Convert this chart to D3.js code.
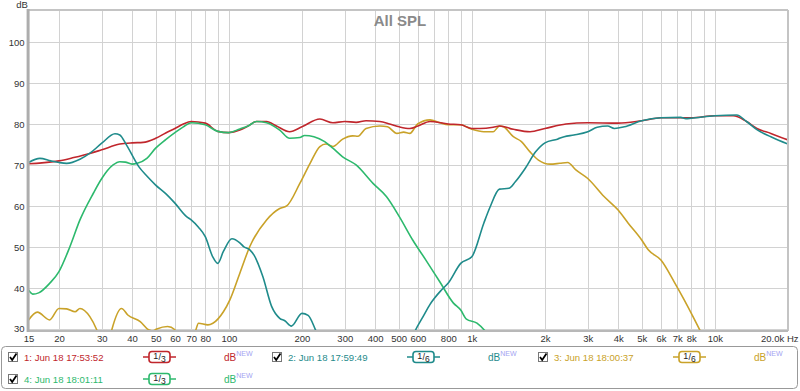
<!DOCTYPE html>
<html><head><meta charset="utf-8">
<script src="https://cdn.jsdelivr.net/npm/d3@7"></script>
<style>
html,body{margin:0;padding:0;background:#fff;}
svg{display:block;font-family:"Liberation Sans",Arial,sans-serif;}
</style></head>
<body>
<svg id="c" width="800" height="391"></svg>
<script>
// ---- data ----
const xTickValues = [15,20,30,40,50,60,70,80,100,200,300,400,500,600,800,1000,2000,3000,4000,5000,6000,7000,8000,10000,20000];
const xTickLabels = ["15","20","30","40","50","60","70","80","100","200","300","400","500","600","800","1k","2k","3k","4k","5k","6k","7k","8k","10k","20.0k Hz"];
const xGrid = [20,30,40,50,60,70,80,90,100,200,300,400,500,600,700,800,900,1000,2000,3000,4000,5000,6000,7000,8000,9000,10000];
const yTickValues = [30,40,50,60,70,80,90,100];

const seriesNames = ["1: Jun 18 17:53:52","2: Jun 18 17:59:49","3: Jun 18 18:00:37","4: Jun 18 18:01:11"];
const seriesSmoothing = [["1","3"],["1","6"],["1","6"],["1","3"]];
const seriesColors = ["#c0262c","#1f8b8b","#c9a229","#2db96d"];

const s1Freq = [15,17,20,23,26.8,30,35.6,40,44.4,50,55,60,65,70,80,90,100,111,120,130,143,157,178,200,237,268,300,334,367,418,459,503,556,600,673,800,900,1000,1080,1224,1300,1482,1736,2000,2440,3000,4000,5000,6000,7000,8000,10000,11900,13500,14900,17000,20000];
const s1Db   = [70.3,70.5,71.0,71.8,72.8,73.7,75.1,75.4,75.5,76.5,77.8,78.9,80.0,80.6,80.2,78.2,77.9,78.5,79.5,80.6,80.6,79.5,78.1,79.3,81.2,80.3,80.6,80.4,80.8,80.6,80.0,79.3,78.9,79.5,80.6,80.0,79.8,78.9,78.9,79.2,79.5,78.7,78.1,78.9,80.0,80.3,80.2,80.8,81.5,81.5,81.5,82.0,82.0,80.6,78.9,77.7,76.1];

const s2Freq = [15,16.7,18.5,20,21.5,24.4,27,30,34,35.6,37.9,42.6,46,50,55,60,67,70,75,80,86,90,95,103,111,115,122,127,138,150,162,170,181,200,212,228,245,300,400,540,585,630,673,750,800,900,1000,1120,1190,1300,1420,1510,1660,1830,2000,2250,2400,2630,3000,3280,3620,3860,4240,5000,6000,7240,7600,8000,10000,12300,13500,15000,17000,20000];
const s2Db   = [70.6,71.6,71.0,70.6,70.4,71.4,73.0,75.3,77.6,77.3,74.9,69.6,67.3,65.1,63.0,60.7,57.4,56.6,54.8,52.5,47.5,46.0,48.9,52.0,51.0,50.1,49.3,48.0,42.8,35.5,32.6,32.0,30.7,33.8,33.3,29.6,25,22,22,25,29.6,33.0,36.0,39.5,41.2,46.0,47.6,55.8,59.8,64.1,64.3,65.9,69.2,73.2,75.4,76.3,76.9,77.3,78.1,79.2,79.5,78.9,79.3,80.8,81.5,81.6,81.3,81.4,82.0,82.2,80.6,78.5,76.9,75.1];

const s3Freq = [15,16.3,18.3,20,21.5,23.3,24.4,26.8,28.6,30,32,33,36.2,38.4,43.2,46.7,48.5,50.5,56,60,64,70,73,75,82,86,95,101,111,122,143,162,173,196,216,237,251,268,294,323,340,367,418,450,492,524,556,598,673,738,800,900,1000,1120,1224,1300,1350,1482,1600,1736,1880,2100,2300,2480,2680,3000,3500,4000,4400,5000,5320,6000,6800,7480,8200,8800,9500,12000,20000];
const s3Db   = [32.2,34.1,32.2,35.0,34.9,34.2,35.0,33.0,29.8,26.5,26.5,29.8,35.0,33.4,31.8,29.8,29.5,30.0,30.6,29.8,27.5,27.5,29.6,31.4,31.0,31.4,34.2,37.1,43.6,50.1,56.6,59.4,60.0,65.5,70.4,74.5,75.1,74.5,76.3,77.1,77.0,78.9,79.5,79.3,77.7,78.0,77.7,80.0,81.0,80.3,79.8,79.8,78.7,78.1,78.1,79.5,79.3,76.9,75.7,73.2,71.2,70.2,70.4,70.6,68.8,66.7,62.3,59.0,55.8,51.7,49.3,46.8,41.5,37.1,32.6,29.0,25,20,15];

const s4Freq = [15,15.6,16.5,18.3,20,22.2,24.4,27.7,30,33.4,35.6,37.5,40,42,46,50,55,60,65,70,80,90,100,111,120,130,143,162,178,196,205,224,248,268,294,334,392,445,503,571,647,738,840,900,950,1050,1130,1250,1500];
const s4Db   = [39.5,38.5,38.8,41.1,44.0,50.1,56.6,63.1,66.7,70.0,70.8,70.7,70.2,70.4,71.6,74.1,76.2,77.9,79.3,80.3,79.8,78.2,77.9,78.8,79.5,80.6,80.3,78.5,76.5,76.7,77.2,76.9,75.7,74.1,72.0,70.0,65.5,62.3,57.4,51.7,46.8,41.5,36.3,34.6,32.4,31.4,29.6,26,22];

const seriesFreqs = [s1Freq,s2Freq,s3Freq,s4Freq];
const seriesDbs = [s1Db,s2Db,s3Db,s4Db];

// ---- layout ----
const L = 28.6, R = 788, T = 10, B = 331;
const svg = d3.select("#c");
const x = d3.scaleLog().domain([15,20000]).range([L,R]);
const y = d3.scaleLinear().domain([29.5,107.8]).range([B,T]);

// gridlines
svg.append("g").attr("transform",`translate(0,${B})`)
  .call(d3.axisBottom(x).tickValues(xGrid).tickSize(-(B-T)).tickFormat(""))
  .call(g=>g.select(".domain").remove())
  .call(g=>g.selectAll("line").attr("stroke","#d2d2d2").attr("stroke-width",1).attr("shape-rendering","crispEdges"));
svg.append("g").attr("transform",`translate(${L},0)`)
  .call(d3.axisLeft(y).tickValues(yTickValues).tickSize(-(R-L)).tickFormat(""))
  .call(g=>g.select(".domain").remove())
  .call(g=>g.selectAll("line").attr("stroke","#d2d2d2").attr("stroke-width",1).attr("shape-rendering","crispEdges"));

// title
svg.append("text").attr("x",400).attr("y",26).attr("text-anchor","middle")
  .attr("font-size",15).attr("font-weight","bold").attr("fill","#8a8a8a").text("All SPL");

// curves
svg.append("clipPath").attr("id","clip").append("rect").attr("x",L).attr("y",T).attr("width",R-L).attr("height",B-T);
const line = d3.line().x(d=>x(d[0])).y(d=>y(d[1])).curve(d3.curveMonotoneX);
const gC = svg.append("g").attr("clip-path","url(#clip)");
[2,0,3,1].forEach(i=>{
  const pts = seriesFreqs[i].map((f,j)=>[f,seriesDbs[i][j]]);
  gC.append("path").attr("d",line(pts)).attr("fill","none")
    .attr("stroke",seriesColors[i]).attr("stroke-width",1.6).attr("stroke-linejoin","round");
});

// frame
svg.append("line").attr("x1",L).attr("x2",R).attr("y1",T).attr("y2",T).attr("stroke","#c4c4c4").attr("stroke-width",2);
svg.append("line").attr("x1",R).attr("x2",R).attr("y1",T).attr("y2",B).attr("stroke","#c4c4c4").attr("stroke-width",2);
svg.append("line").attr("x1",L).attr("x2",R).attr("y1",B).attr("y2",B).attr("stroke","#b8b8b8").attr("stroke-width",2);
svg.append("line").attr("x1",L-0.5).attr("x2",L-0.5).attr("y1",T-1).attr("y2",B+1).attr("stroke","#adadad").attr("stroke-width",3);

// y axis labels
svg.append("g").attr("transform",`translate(${L},0)`)
  .call(d3.axisLeft(y).tickValues(yTickValues).tickSize(0).tickPadding(4).tickFormat(d3.format("d")))
  .call(g=>g.select(".domain").remove())
  .call(g=>g.selectAll("text").attr("font-size",9.5).attr("fill","#333").attr("font-family","Liberation Sans, Arial, sans-serif"));
svg.append("text").attr("x",22).attr("y",8).attr("text-anchor","middle").attr("font-size",9.5).attr("fill","#333").text("dB");

// x axis labels
svg.append("g").attr("transform",`translate(0,${B})`)
  .call(d3.axisBottom(x).tickValues(xTickValues).tickSize(0).tickPadding(4).tickFormat((d,i)=>xTickLabels[i]))
  .call(g=>g.select(".domain").remove())
  .call(g=>g.selectAll("text").attr("font-size",9.5).attr("fill","#333").attr("font-family","Liberation Sans, Arial, sans-serif"))
  .call(g=>g.selectAll(".tick").filter(d=>d===20000).select("text").attr("text-anchor","end").attr("x",10));

// legend
svg.append("rect").attr("x",1.5).attr("y",346.5).attr("width",796).attr("height",42).attr("rx",4)
  .attr("fill","#fff").attr("stroke","#999");
const legendPos = [[8,357],[272,357],[538,357],[8,379]];
seriesNames.forEach((name,i)=>{
  const [lx,ly] = legendPos[i];
  const g = svg.append("g").attr("transform",`translate(${lx},${ly})`);
  g.append("rect").attr("x",0.5).attr("y",-4.5).attr("width",9).attr("height",9).attr("fill","#fff").attr("stroke","#777");
  g.append("path").attr("d","M2,0 L4.2,3 L8.5,-3.5").attr("fill","none").attr("stroke","#000").attr("stroke-width",1.8);
  g.append("text").attr("x",16).attr("y",3.5).attr("font-size",9.6).attr("fill",seriesColors[i]).text(name);
  // smoothing badge
  g.append("line").attr("x1",135).attr("x2",168).attr("y1",0).attr("y2",0).attr("stroke",seriesColors[i]).attr("stroke-width",1.5);
  g.append("rect").attr("x",141).attr("y",-5.5).attr("width",21).attr("height",11).attr("rx",3)
    .attr("fill","#fff").attr("stroke",seriesColors[i]).attr("stroke-width",1.6);
  const t = g.append("text").attr("x",151.5).attr("y",3).attr("text-anchor","middle").attr("font-size",9).attr("fill","#222");
  t.append("tspan").attr("dy",-1.5).text(seriesSmoothing[i][0]);
  t.append("tspan").attr("dy",1.5).text("/");
  t.append("tspan").attr("dy",1.5).attr("font-size",8.5).text(seriesSmoothing[i][1]);
  const d = g.append("text").attr("x",216).attr("y",4).attr("font-size",10).attr("fill",seriesColors[i]);
  d.append("tspan").text("dB");
  d.append("tspan").attr("dy",-5).attr("font-size",7).attr("fill","#a3a3f2").text("NEW");
});
</script>
</body></html>
